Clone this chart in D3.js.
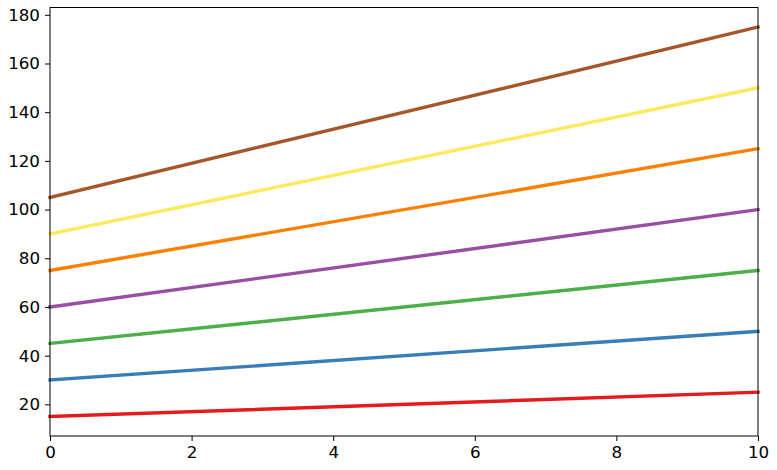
<!DOCTYPE html>
<html>
<head>
<meta charset="utf-8">
<script src="https://d3js.org/d3.v7.min.js"></script>
<style>
html,body{margin:0;padding:0;background:#fff;}
</style>
</head>
<body>
<svg id="chart" width="777" height="470"></svg>
<script>
const xValues = [0, 10];
const red = [15, 25];
const blue = [30, 50];
const green = [45, 75];
const purple = [60, 100];
const orange = [75, 125];
const yellow = [90, 150];
const brown = [105, 175];
const seriesList = [red, blue, green, purple, orange, yellow, brown];
const colors = ["#e41a1c", "#377eb8", "#4daf4a", "#984ea3", "#ff7f00", "#fde95f", "#a65628"];
const xTicks = [0, 2, 4, 6, 8, 10];
const yTicks = [20, 40, 60, 80, 100, 120, 140, 160, 180];

(function () {
const svg = d3.select("#chart");
const mL = 50, mR = 758, mT = 7.5, mB = 436;
const x = d3.scaleLinear().domain([0, 10]).range([mL, mR]);
const y = d3.scaleLinear().domain([7, 183]).range([mB, mT]);

const line = d3.line().x((d, i) => x(xValues[i])).y(d => y(d));
seriesList.forEach((s, k) => {
  svg.append("path").datum(s).attr("d", line)
    .attr("fill", "none").attr("stroke", colors[k]).attr("stroke-width", 3.4)
    .attr("stroke-linecap", "square");
});

svg.append("rect").attr("x", mL).attr("y", mT).attr("width", mR - mL).attr("height", mB - mT)
  .attr("fill", "none").attr("stroke", "#000").attr("stroke-width", 1);

const xAxis = svg.append("g").attr("transform", `translate(0,${mB})`)
  .call(d3.axisBottom(x).tickValues(xTicks).tickSize(5).tickPadding(5).tickFormat(d3.format("d")));
const yAxis = svg.append("g").attr("transform", `translate(${mL},0)`)
  .call(d3.axisLeft(y).tickValues(yTicks).tickSize(5).tickPadding(5).tickFormat(d3.format("d")));
[xAxis, yAxis].forEach(g => {
  g.select(".domain").remove();
  g.attr("font-size", null).attr("font-family", null);
  g.selectAll("text").style("font-size", "16.7px").style("fill", "#000").style("font-family", "'DejaVu Sans', sans-serif");
  g.selectAll("line").attr("stroke", "#000");
});
})();
</script>
</body>
</html>
